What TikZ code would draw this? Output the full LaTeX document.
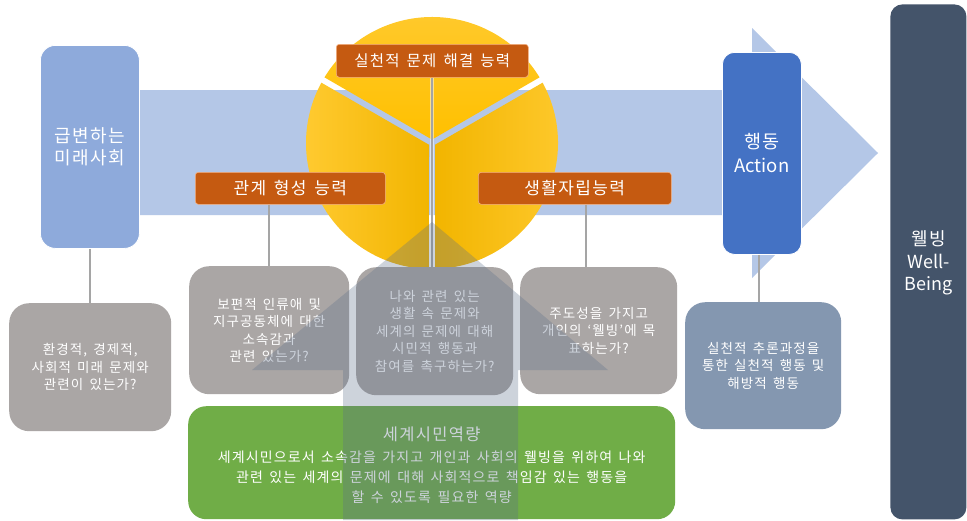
\documentclass[tikz,border=0pt]{standalone}
\usepackage{fontspec}
\setmainfont{Noto Sans CJK KR}[LetterSpace=8, WordSpace=1.5]
\newfontfamily\latinf{Noto Sans CJK KR}
\usetikzlibrary{calc}
\definecolor{arrowblue}{HTML}{B4C7E7}
\definecolor{futblue}{HTML}{8EAADB}
\definecolor{actblue}{HTML}{4472C4}
\definecolor{wbnavy}{HTML}{44546A}
\definecolor{qgray}{HTML}{AAA6A5}
\definecolor{qslate}{HTML}{8497B0}
\definecolor{gogreen}{HTML}{70AD47}
\definecolor{orangebox}{HTML}{C55A11}
\definecolor{orangeedge}{HTML}{F4B183}
\definecolor{conngray}{HTML}{A5A5A5}
\definecolor{overlaycol}{HTML}{5B6E8A}
\definecolor{yelA}{HTML}{FFC000}
\definecolor{yelB}{HTML}{FFCA30}
\definecolor{yelC}{HTML}{F2B500}
\begin{document}
\begin{tikzpicture}[x=1pt,y=-1pt,
  basebox/.style={anchor=north west, text=white, align=center, inner sep=0pt},
  bigbox/.style={basebox, draw=white, line width=0.8pt, rounded corners=14pt,
     font=\fontsize{18}{22}\selectfont},
  qbox/.style={basebox, fill=qgray, rounded corners=20pt,
     font=\fontsize{13.5}{17.5}\selectfont},
  obox/.style={basebox, fill=orangebox, draw=orangeedge, line width=0.6pt,
     rounded corners=3pt},
  conn/.style={draw=conngray, line width=2.2pt},
  connhalo/.style={draw=white, line width=4pt, opacity=0.5},
  sector/.style={draw=none}
]
\useasboundingbox (0,0) rectangle (967,520);
\fill[white] (0,0) rectangle (967,520);

% big arrow
\fill[arrowblue] (100,90) -- (752,90) -- (752,28) -- (878,153) -- (752,278)
   -- (752,215) -- (100,215) -- cycle;

% main boxes
\node[bigbox, fill=futblue, minimum width=99pt, minimum height=203pt, rounded corners=15pt]
  (fut) at (40,45) {급변하는\\미래사회};
\node[bigbox, fill=actblue, minimum width=79pt, minimum height=202pt, rounded corners=12pt,
  font=\fontsize{18.5}{24}\selectfont]
  (act) at (722,52) {행동\\{\latinf Action}};
\node[bigbox, draw=none, fill=wbnavy, minimum width=76pt, minimum height=515pt, rounded corners=12pt]
  (wb) at (890,4) {};
\node[text=white, align=center, font=\fontsize{18}{22.5}\selectfont] (wbt) at (wb.center |- 0,263)
  {웰빙\\{\latinf Well-}\\{\latinf Being}};

% circle sectors
\coordinate (C) at (432,143);
\path[sector, top color=yelB, bottom color=yelA]
  ($(C)+(270:3.46)$) -- ($(C)+(211.4:126)$) arc[start angle=211.4, end angle=328.6, radius=126] -- cycle;
\path[sector, left color=yelB, right color=yelC]
  ($(C)+(150:3.46)$) -- ($(C)+(91.4:126)$) arc[start angle=91.4, end angle=208.6, radius=126] -- cycle;
\path[sector, left color=yelC, right color=yelB]
  ($(C)+(30:3.46)$) -- ($(C)+(-28.6:126)$) arc[start angle=-28.6, end angle=88.6, radius=126] -- cycle;

% orange capability boxes
\node[obox, minimum width=192pt, minimum height=33pt, font=\fontsize{15.5}{18}\selectfont]
  (o1) at (336,44) {실천적 문제 해결 능력};
\node[obox, minimum width=190pt, minimum height=32pt, font=\fontsize{17}{20}\selectfont]
  (o2) at (195,172) {관계 형성 능력};
\node[obox, minimum width=193pt, minimum height=32pt, font=\fontsize{17}{20}\selectfont]
  (o3) at (478,172) {생활자립능력};

% question boxes
\node[qbox, minimum width=162pt, minimum height=128pt] (q1) at (9,303)
  {환경적, 경제적,\\사회적 미래 문제와\\관련이 있는가?};
\node[qbox, minimum width=160pt, minimum height=128pt] (q2) at (189,266)
  {보편적 인류애 및\\지구공동체에 대한\\소속감과\\관련 있는가?};
\node[qbox, minimum width=157pt, minimum height=128pt] (q3) at (356,267)
  {나와 관련 있는\\생활 속 문제와\\세계의 문제에 대해\\시민적 행동과\\참여를 촉구하는가?};
\node[qbox, minimum width=157pt, minimum height=127pt] (q4) at (520,267)
  {주도성을 가지고\\개인의 ‘웰빙’에 목\\표하는가?};
\node[qbox, fill=qslate, minimum width=156pt, minimum height=127pt] (q5) at (685,302)
  {실천적 추론과정을\\통한 실천적 행동 및\\해방적 행동};

% connectors
\draw[connhalo] (o1.south) -- (o1.south |- q3.north);
\draw[conn] (o1.south) -- (o1.south |- q3.north);
\draw[conn] (fut.south) -- (fut.south |- q1.north);
\draw[conn] (q2.north |- o2.south) -- (q2.north);
\draw[conn] ([xshift=11pt]o3.south) -- ([xshift=11pt]o3.south |- q4.north);
\draw[conn] ([xshift=-3pt]act.south) -- ([xshift=-3pt]act.south |- q5.north);

% green competence box
\node[basebox, fill=gogreen, rounded corners=18pt, minimum width=487pt, minimum height=113pt]
  (gr) at (188,406) {};
\node[text=white, font=\fontsize{16.5}{19}\selectfont] (grt) at ($(gr.north)+(0,28)$) {세계시민역량};
\node[text=white, align=center, font=\fontsize{14}{20}\selectfont]
  (grb) at ($(gr.north)+(0,71)$) {세계시민으로서 소속감을 가지고 개인과 사회의 웰빙을 위하여 나와\\관련 있는 세계의 문제에 대해 사회적으로 책임감 있는 행동을\\할 수 있도록 필요한 역량};

% translucent upward arrow overlay
\fill[overlaycol, fill opacity=0.3] (432,222) -- (608,370) -- (518,370) -- (518,520)
  -- (343,520) -- (343,370) -- (252,370) -- cycle;
\end{tikzpicture}
\end{document}
